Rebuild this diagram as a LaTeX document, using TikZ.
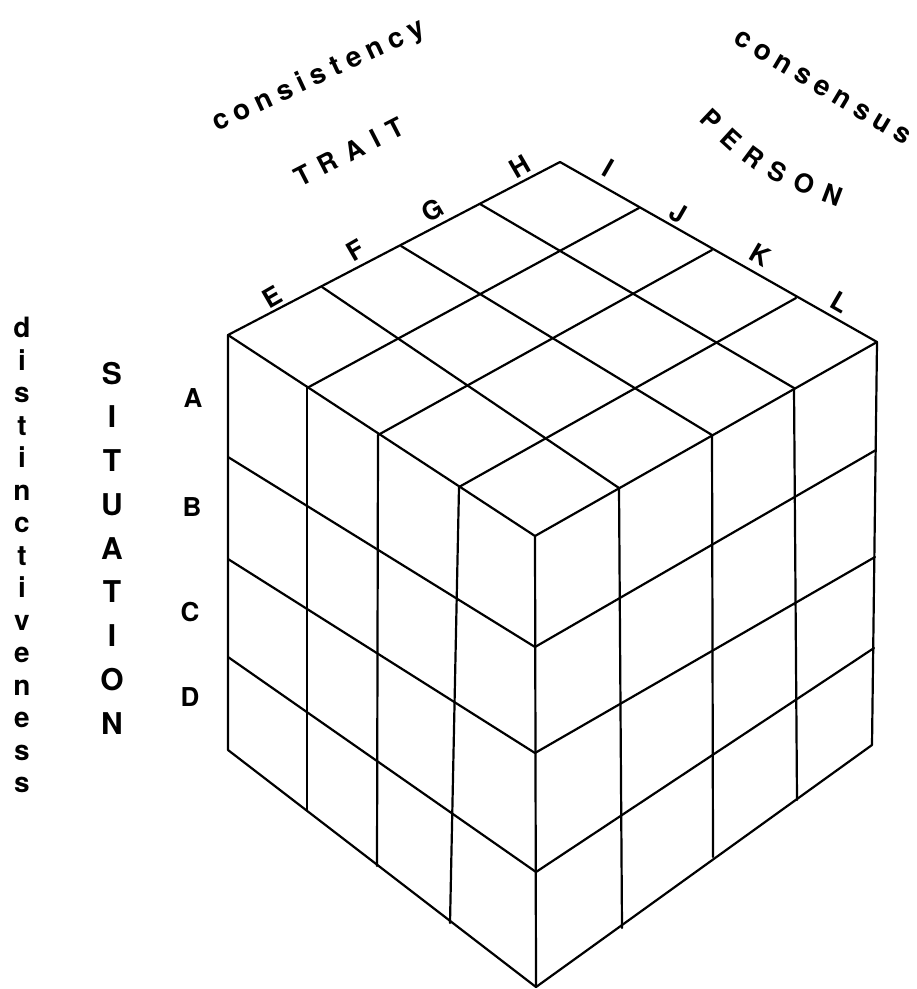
\documentclass[tikz,border=0pt]{standalone}
\usepackage{fontspec}
\setmainfont{TeX Gyre Heros}
\usetikzlibrary{decorations.text}

\begin{document}
\begin{tikzpicture}[x=0.5pt,y=-0.5pt,
  every node/.style={font=\bfseries\fontsize{13}{15}\selectfont,inner sep=0pt},
  edge/.style={line width=1.1pt,line join=round,line cap=round}]
\useasboundingbox (0,0) rectangle (916,989);
% top face
\coordinate (back) at (560,162);
\coordinate (left) at (228,335);
\coordinate (right) at (877,342);
\coordinate (front) at (535,536);
\coordinate (bl1) at (322,287);
\coordinate (bl2) at (401,246);
\coordinate (bl3) at (480,204);
\coordinate (br1) at (639,208);
\coordinate (br2) at (712,250);
\coordinate (br3) at (796,298);
\coordinate (fl1) at (307,388);
\coordinate (fl2) at (378,435);
\coordinate (fl3) at (459,487);
\coordinate (fr1) at (619,488);
\coordinate (fr2) at (712,435);
\coordinate (fr3) at (794,388);
% bottom corners
\coordinate (leftb) at (228,750);
\coordinate (frontb) at (536,987);
\coordinate (rightb) at (872,745);
\coordinate (lb1) at (307,810);
\coordinate (lb2) at (377,866);
\coordinate (lb3) at (450,923);
\coordinate (rb1) at (622,928);
\coordinate (rb2) at (713,857);
\coordinate (rb3) at (797,800);
% vertical edges
\coordinate (ll1) at (228,457);
\coordinate (ll2) at (228,559);
\coordinate (ll3) at (228,657);
\coordinate (ff1) at (535,647);
\coordinate (ff2) at (535,753);
\coordinate (ff3) at (536,872);
\coordinate (rr1) at (876,450);
\coordinate (rr2) at (875,557);
\coordinate (rr3) at (874,648);
% outline
\draw[edge] (left)--(back)--(right)--(rightb)--(frontb)--(leftb)--cycle;
\draw[edge] (left)--(front)--(right);
\draw[edge] (front)--(frontb);
% top grid
\draw[edge] (bl1)--(fr1);
\draw[edge] (bl2)--(fr2);
\draw[edge] (bl3)--(fr3);
\draw[edge] (fl1)--(br1);
\draw[edge] (fl2)--(br2);
\draw[edge] (fl3)--(br3);
% left face grid
\draw[edge] (fl1)--(lb1);
\draw[edge] (fl2)--(lb2);
\draw[edge] (fl3)--(lb3);
\draw[edge] (ll1)--(ff1);
\draw[edge] (ll2)--(ff2);
\draw[edge] (ll3)--(ff3);
% right face grid
\draw[edge] (fr1)--(rb1);
\draw[edge] (fr2)--(rb2);
\draw[edge] (fr3)--(rb3);
\draw[edge] (ff1)--(rr1);
\draw[edge] (ff2)--(rr2);
\draw[edge] (ff3)--(rr3);
% row and column letters
\node (sa) at (193,398) {A};
\node (sb) at (192,507) {B};
\node (sc) at (190,612) {C};
\node (sd) at (190,697) {D};
\node[rotate=30] (te) at (272,297) {E};
\node[rotate=30] (tf) at (356,250) {F};
\node[rotate=30] (tg) at (433,210) {G};
\node[rotate=30] (th) at (520,167) {H};
\node[rotate=-30] (pi) at (608,168) {I};
\node[rotate=-30] (pj) at (678,213) {J};
\node[rotate=-30] (pk) at (760,255) {K};
\node[rotate=-30] (pl) at (840,302) {L};
% axis words
\node[align=center,font=\bfseries\fontsize{14}{16.25}\selectfont] (dist) at (22,555)
  {d\\i\\s\\t\\i\\n\\c\\t\\i\\v\\e\\n\\e\\s\\s};
\node[align=center,font=\bfseries\fontsize{15}{21.875}\selectfont] (sit) at (112,548)
  {S\\I\\T\\U\\A\\T\\I\\O\\N};
\path[decorate,decoration={text along path,text align={fit to path},
  text={|\bfseries\fontsize{14}{16}\selectfont|consistency}}] (217,132)--(427,34);
\path[decorate,decoration={text along path,text align={fit to path},
  text={|\bfseries\fontsize{13}{15}\selectfont|TRAIT}}] (300,188)--(407,133);
\path[decorate,decoration={text along path,text align={fit to path},
  text={|\bfseries\fontsize{14}{16}\selectfont|consensus}}] (732,43)--(905,146);
\path[decorate,decoration={text along path,text align={fit to path},
  text={|\bfseries\fontsize{13}{15}\selectfont|PERSON}}] (698,121) .. controls (756,176) .. (838,207);
\end{tikzpicture}
\end{document}
